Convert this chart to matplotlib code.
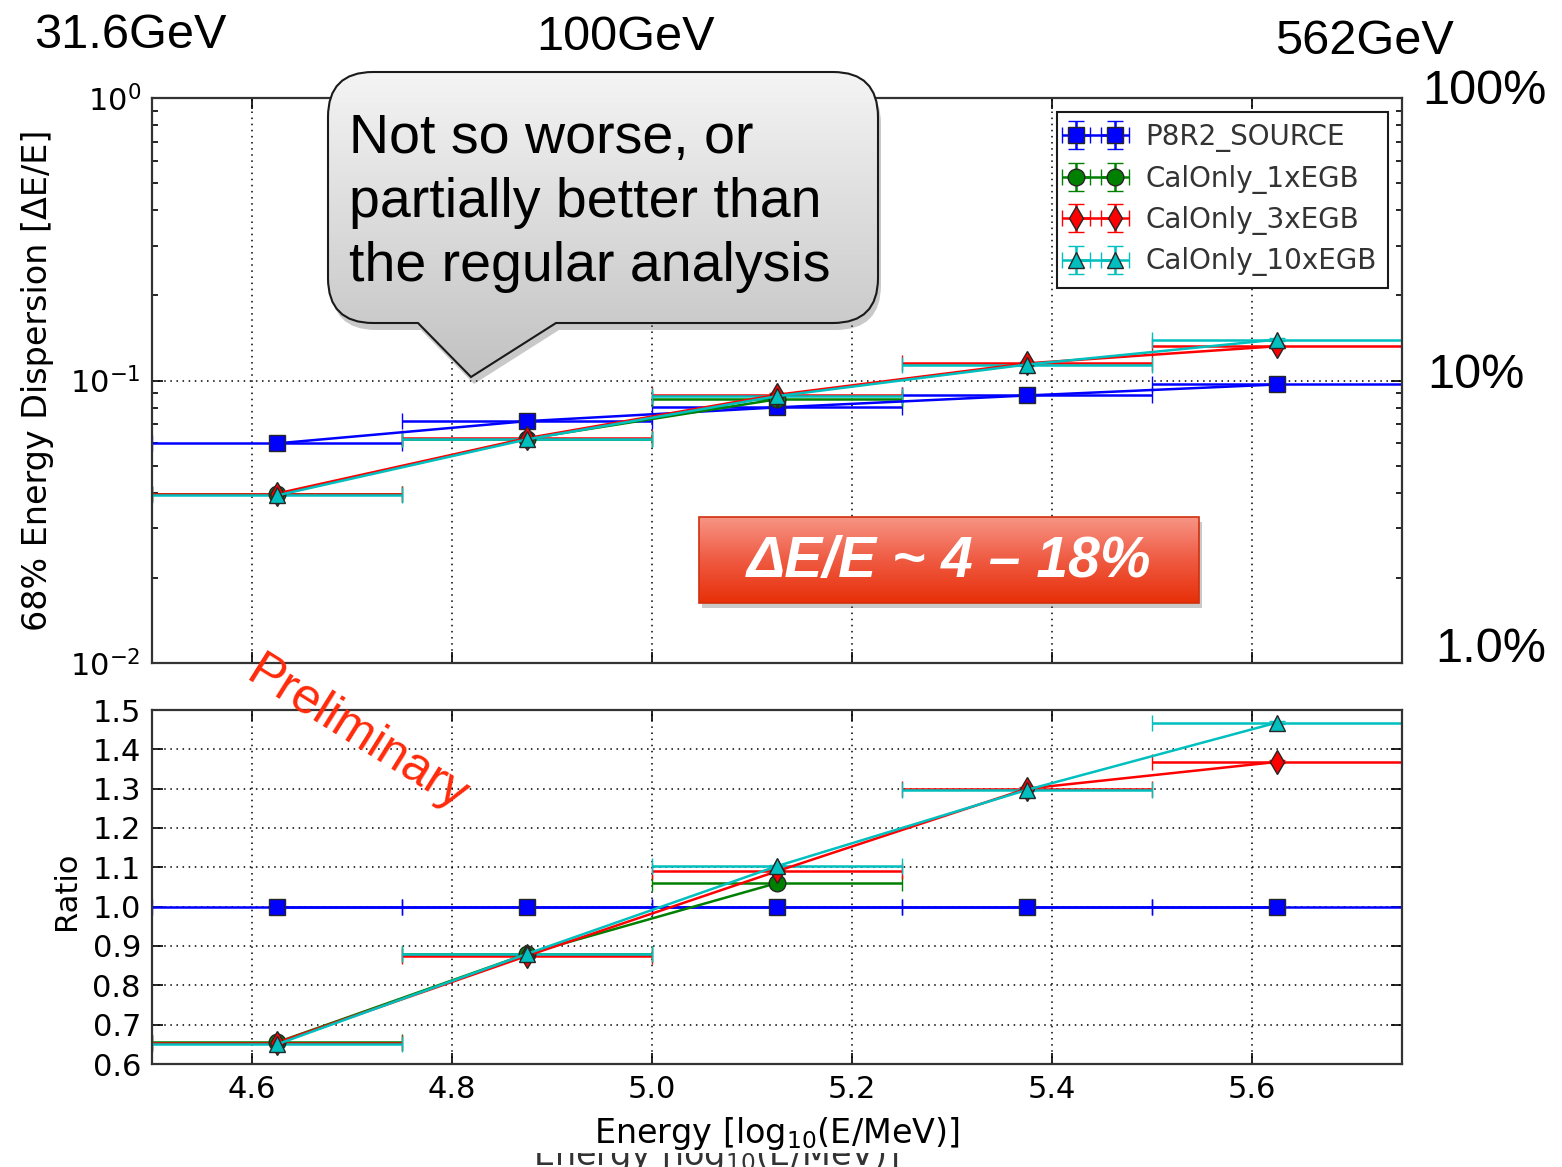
import numpy as np
import matplotlib
matplotlib.use('Agg')
import matplotlib.pyplot as plt
from matplotlib.patches import PathPatch, Rectangle
from matplotlib.path import Path
from matplotlib.transforms import Bbox
from matplotlib.ticker import LogLocator, NullFormatter, MultipleLocator

# bin centres in log10(E/MeV) and half bin width
energy = [4.625, 4.875, 5.125, 5.375, 5.625]
energy_1x = [4.625, 4.875, 5.125]
half_bin = 0.125

# 68% energy dispersion (upper panel)
disp_source = [0.0599, 0.0718, 0.0803, 0.0885, 0.0968]
disp_1x = [0.0395, 0.0622, 0.0858]
disp_3x = [0.0398, 0.0625, 0.0890, 0.1150, 0.1322]
disp_10x = [0.0392, 0.0619, 0.0880, 0.1139, 0.1396]
disp_err_source = [0.0008, 0.0009, 0.0010, 0.0011, 0.0012]
disp_err_1x = [0.0006, 0.0008, 0.0011]
disp_err_3x = [0.0006, 0.0008, 0.0011, 0.0014, 0.0016]
disp_err_10x = [0.0006, 0.0008, 0.0011, 0.0014, 0.0017]

# ratio to P8R2_SOURCE (lower panel)
ratio_source = [1.0, 1.0, 1.0, 1.0, 1.0]
ratio_1x = [0.655, 0.880, 1.060]
ratio_3x = [0.654, 0.875, 1.090, 1.300, 1.368]
ratio_10x = [0.650, 0.880, 1.103, 1.297, 1.468]
ratio_err = [0.004, 0.004, 0.004, 0.004, 0.004]

labels = ['P8R2_SOURCE', 'CalOnly_1xEGB', 'CalOnly_3xEGB', 'CalOnly_10xEGB']
colors = ['b', 'g', 'r', 'c']
markers = ['s', 'o', 'd', '^']

plt.rcParams['font.family'] = 'DejaVu Sans'
plt.rcParams['mathtext.default'] = 'regular'

W, H = 1562, 1167
fig = plt.figure(figsize=(W / 100, H / 100), dpi=100, facecolor='white')
ax1 = fig.add_axes([152 / W, 1 - 663 / H, 1250 / W, 565 / H])
ax2 = fig.add_axes([152 / W, 1 - 1064 / H, 1250 / W, 354 / H])

top_sets = [(energy, disp_source, disp_err_source),
            (energy_1x, disp_1x, disp_err_1x),
            (energy, disp_3x, disp_err_3x),
            (energy, disp_10x, disp_err_10x)]
bot_sets = [(energy, ratio_source), (energy_1x, ratio_1x),
            (energy, ratio_3x), (energy, ratio_10x)]

for i in range(4):
    x, y, e = top_sets[i]
    ax1.errorbar(x, y, xerr=half_bin, yerr=e, fmt='-' + markers[i], color=colors[i],
                 mfc=colors[i], mec='0.15', mew=1, ms=12, lw=1.8, elinewidth=1.8,
                 capsize=6, capthick=1.5, label=labels[i])
    xb, yb = bot_sets[i]
    ax2.errorbar(xb, yb, xerr=half_bin, yerr=ratio_err[:len(yb)], fmt='-' + markers[i],
                 color=colors[i], mfc=colors[i], mec='0.15', mew=1, ms=12, lw=1.8,
                 elinewidth=1.8, capsize=6, capthick=1.5)

for ax in (ax1, ax2):
    ax.set_xlim(4.5, 5.75)
    ax.xaxis.set_major_locator(MultipleLocator(0.2))
    ax.grid(True, which='major', color='k', lw=1.1, linestyle=(0, (1, 3)))
    ax.tick_params(which='both', direction='in', top=True, right=True,
                   labelsize=22, width=1.2)
    ax.tick_params(which='major', length=8, pad=8)
    ax.tick_params(which='minor', length=4)
    for s in ax.spines.values():
        s.set_linewidth(1.6)
        s.set_color('0.2')

ax1.set_yscale('log')
ax1.set_ylim(0.01, 1.0)
ax1.yaxis.set_major_locator(LogLocator(base=10))
ax1.yaxis.set_minor_locator(LogLocator(base=10, subs=np.arange(2, 10)))
ax1.yaxis.set_minor_formatter(NullFormatter())
ax1.tick_params(axis='x', labelbottom=False)
ax1.set_ylabel('68% Energy Dispersion [ΔE/E]', fontsize=24)
ax1.yaxis.set_label_coords(-0.078, 0.5)

leg = ax1.legend(loc='upper right', numpoints=2, fontsize=20, fancybox=False,
                 framealpha=1, edgecolor='0.1', handlelength=2.0,
                 borderaxespad=0.5, labelspacing=0.45)
leg.get_frame().set_linewidth(1.5)
for t in leg.get_texts():
    t.set_color('0.2')

ax2.set_ylim(0.6, 1.5)
ax2.yaxis.set_major_locator(MultipleLocator(0.1))
ax2.yaxis.set_major_formatter(matplotlib.ticker.FormatStrFormatter('%.1f'))
ax2.set_ylabel('Ratio', fontsize=22)
ax2.yaxis.set_label_coords(-0.057, 0.49)
ax2.set_xlabel('Energy [log$_{10}$(E/MeV)]', fontsize=24)
ax2.xaxis.set_label_coords(0.5, -0.145)

# overlay in pixel coordinates for the slide annotations
ov = fig.add_axes([0, 0, 1, 1], zorder=10)
ov.axis('off')
ov.patch.set_alpha(0)

arial = 'Liberation Sans'

# speech bubble
x0, x1, y0, y1, r = 328, 878, 72, 323, 45
verts = [(x0 + r, y0), (x1 - r, y0), (x1, y0), (x1, y0 + r), (x1, y1 - r), (x1, y1),
         (x1 - r, y1), (556, y1), (471, 377), (418, y1), (x0 + r, y1), (x0, y1),
         (x0, y1 - r), (x0, y0 + r), (x0, y0), (x0 + r, y0), (x0 + r, y0)]
codes = [Path.MOVETO, Path.LINETO, Path.CURVE3, Path.CURVE3, Path.LINETO, Path.CURVE3,
         Path.CURVE3, Path.LINETO, Path.LINETO, Path.LINETO, Path.LINETO, Path.CURVE3,
         Path.CURVE3, Path.LINETO, Path.CURVE3, Path.CURVE3, Path.CLOSEPOLY]
bubble = Path(verts, codes)
shadow = Path(np.array(verts) + [3, 7], codes)
ov.add_patch(PathPatch(shadow, fc='0.3', ec='none', alpha=0.3))
bp = PathPatch(bubble, fc='none', ec='0.1', lw=1.5, zorder=3)
ov.add_patch(bp)
grad = np.linspace(0, 1, 256).reshape(-1, 1)
im = ov.imshow(grad, cmap=matplotlib.colors.LinearSegmentedColormap.from_list(
    'g', ['#f4f4f4', '#c2c2c2']), extent=[x0, x1, 377, y0], aspect='auto', zorder=2)
im.set_clip_path(PathPatch(bubble, transform=ov.transData))
ov.text(349, 203, 'Not so worse, or\npartially better than\nthe regular analysis',
        family=arial, fontsize=40, ha='left', va='center', linespacing=1.3, zorder=4)

# red summary box
bx0, by0, bw, bh = 699, 517, 500, 86
ov.add_patch(Rectangle((bx0 + 3, by0 + 5), bw, bh, fc='0.3', ec='none', alpha=0.3))
box = Rectangle((bx0, by0), bw, bh, fc='none', ec='#d0300c', lw=1.2, zorder=3)
ov.add_patch(box)
im2 = ov.imshow(grad, cmap=matplotlib.colors.LinearSegmentedColormap.from_list(
    'r', ['#f79585', '#ef5a42', '#e72f08']), extent=[bx0, bx0 + bw, by0 + bh, by0],
    aspect='auto', zorder=2)
im2.set_clip_path(box)
ov.text(bx0 + bw / 2, by0 + bh / 2 + 2, 'ΔE/E ~ 4 – 18%', family=arial, fontsize=41,
        weight='bold', style='italic', color='white', ha='center', va='center', zorder=4)

# energy and percentage labels
for txt, x, y in [('31.6GeV', 130, 36), ('100GeV', 626, 38), ('562GeV', 1364, 41)]:
    ov.text(x, y, txt, family=arial, fontsize=35, ha='center', va='center')
for txt, x, y in [('100%', 1484, 91), ('10%', 1476, 376), ('1.0%', 1491, 650)]:
    ov.text(x, y, txt, family=arial, fontsize=35, ha='center', va='center')

ov.text(357, 735, 'Preliminary', family=arial, fontsize=36, color='#ff2a0a',
        rotation=-32, ha='center', va='center', rotation_mode='anchor', zorder=6)

ov.set_xlim(0, W)
ov.set_ylim(H, 0)

# partly hidden duplicate axis label at the very bottom
dup = fig.text(716 / W, 1 - 1156 / H, 'Energy [log$_{10}$(E/MeV)]', fontsize=24,
               ha='center', va='center', color='0.2')
dup.set_clip_box(Bbox.from_extents(0, 0, W, 14))
dup.set_clip_on(True)

fig.savefig('out.png', dpi=100, facecolor='white')
